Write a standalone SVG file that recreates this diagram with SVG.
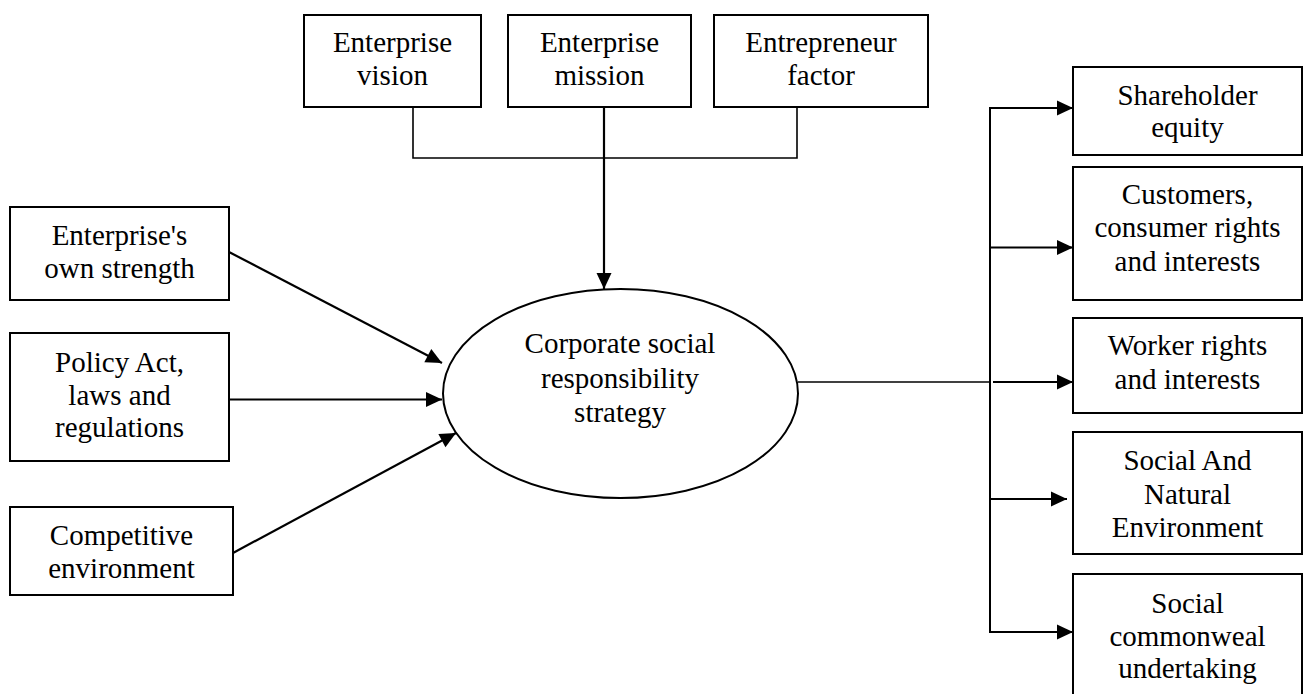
<svg xmlns="http://www.w3.org/2000/svg" width="1303" height="694" viewBox="0 0 1303 694">
<style>
.box{fill:#fff;stroke:#000;stroke-width:2}
.ell{fill:#fff;stroke:#000;stroke-width:2}
.t{font-family:"Liberation Serif","Times New Roman",serif;font-size:29px;fill:#000;text-anchor:middle}
.ln{fill:none;stroke:#000;stroke-width:2}
.ln2{fill:none;stroke:#000;stroke-width:1.6}
.ar{fill:none;stroke:#000;stroke-width:2.2;marker-end:url(#ah)}
</style>
<defs>
<marker id="ah" markerUnits="userSpaceOnUse" markerWidth="17" markerHeight="16" refX="16" refY="7.5" orient="auto" overflow="visible">
<path d="M0,0 L16,7.5 L0,15 z" fill="#000"/>
</marker>
</defs>
<rect width="1303" height="694" fill="#fff"/>

<g id="connectors">
<polyline class="ln2" points="413,107 413,158 797,158 797,107"/>
<line class="ar" x1="604" y1="107" x2="604" y2="289"/>
<line class="ar" x1="229" y1="252" x2="442" y2="363"/>
<line class="ar" x1="229" y1="399.5" x2="442" y2="399.5"/>
<line class="ar" x1="233" y1="553" x2="456" y2="433"/>
<line class="ln2" x1="798" y1="382" x2="989" y2="382"/>
<line class="ln" x1="990" y1="108" x2="990" y2="633"/>
<line class="ar" x1="989" y1="108" x2="1073" y2="108"/>
<line class="ar" x1="989" y1="247.5" x2="1073" y2="247.5"/>
<line class="ar" x1="993" y1="382" x2="1073" y2="382"/>
<line class="ar" x1="989" y1="499" x2="1067" y2="499"/>
<line class="ar" x1="989" y1="632" x2="1073" y2="632"/>
</g>

<g id="vision">
<rect class="box" x="304" y="15" width="177" height="92"/>
<text class="t" x="392.5" y="52">Enterprise</text>
<text class="t" x="392.5" y="85">vision</text>
</g>
<g id="mission">
<rect class="box" x="508" y="15" width="183" height="92"/>
<text class="t" x="599.5" y="52">Enterprise</text>
<text class="t" x="599.5" y="85">mission</text>
</g>
<g id="entrepreneur">
<rect class="box" x="714" y="15" width="214" height="92"/>
<text class="t" x="821" y="52">Entrepreneur</text>
<text class="t" x="821" y="85">factor</text>
</g>

<g id="strength">
<rect class="box" x="10" y="207" width="219" height="93"/>
<text class="t" x="119.5" y="245">Enterprise's</text>
<text class="t" x="119.5" y="278">own strength</text>
</g>
<g id="policy">
<rect class="box" x="10" y="333" width="219" height="128"/>
<text class="t" x="119.5" y="372">Policy Act,</text>
<text class="t" x="119.5" y="405">laws and</text>
<text class="t" x="119.5" y="437">regulations</text>
</g>
<g id="competitive">
<rect class="box" x="10" y="507" width="223" height="88"/>
<text class="t" x="121.5" y="545">Competitive</text>
<text class="t" x="121.5" y="578">environment</text>
</g>

<g id="csr">
<ellipse class="ell" cx="620.5" cy="393.5" rx="177.5" ry="104.5"/>
<text class="t" x="620" y="353">Corporate social</text>
<text class="t" x="620" y="388">responsibility</text>
<text class="t" x="620" y="422">strategy</text>
</g>

<g id="shareholder">
<rect class="box" x="1073" y="67" width="229" height="88"/>
<text class="t" x="1187.5" y="105">Shareholder</text>
<text class="t" x="1187.5" y="137">equity</text>
</g>
<g id="customers">
<rect class="box" x="1073" y="167" width="229" height="133"/>
<text class="t" x="1187.5" y="204">Customers,</text>
<text class="t" x="1187.5" y="237">consumer rights</text>
<text class="t" x="1187.5" y="271">and interests</text>
</g>
<g id="worker">
<rect class="box" x="1073" y="318" width="229" height="95"/>
<text class="t" x="1187.5" y="355">Worker rights</text>
<text class="t" x="1187.5" y="389">and interests</text>
</g>
<g id="environment">
<rect class="box" x="1073" y="432" width="229" height="122"/>
<text class="t" x="1187.5" y="470">Social And</text>
<text class="t" x="1187.5" y="504">Natural</text>
<text class="t" x="1187.5" y="537">Environment</text>
</g>
<g id="commonweal">
<rect class="box" x="1073" y="574" width="229" height="125"/>
<text class="t" x="1187.5" y="613">Social</text>
<text class="t" x="1187.5" y="646">commonweal</text>
<text class="t" x="1187.5" y="678">undertaking</text>
</g>
</svg>
